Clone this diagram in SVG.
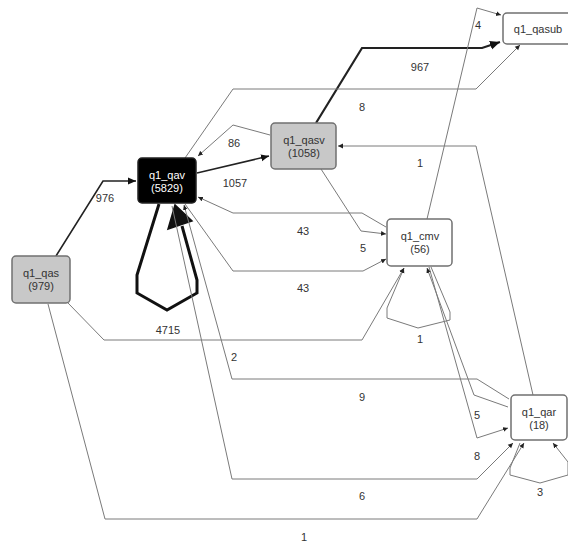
<svg xmlns="http://www.w3.org/2000/svg" width="568" height="545" viewBox="0 0 568 545">
<style>
.e{fill:none;stroke:#7a7a7a;stroke-width:1}
.em{fill:none;stroke:#222;stroke-width:1.6}
.eb{fill:none;stroke:#222;stroke-width:2.2}
.l{font-family:"Liberation Sans",Arial,sans-serif;font-size:11px;fill:#333;text-anchor:middle}
.n{font-family:"Liberation Sans",Arial,sans-serif;font-size:11px;text-anchor:middle}
.g{fill:#c8c8c8;stroke:#707070;stroke-width:1.5}
.w{fill:#fff;stroke:#707070;stroke-width:1.5}
</style>
<defs>
<marker id="a" markerUnits="userSpaceOnUse" markerWidth="6" markerHeight="6" refX="5" refY="3" orient="auto"><path d="M0,0.6 L5,3 L0,5.4 Z" fill="#222"/></marker>
<marker id="am" markerUnits="userSpaceOnUse" markerWidth="9" markerHeight="8" refX="8" refY="4" orient="auto"><path d="M0,0.5 L8,4 L0,7.5 Z" fill="#111"/></marker>
<marker id="ab" markerUnits="userSpaceOnUse" markerWidth="11" markerHeight="10" refX="10" refY="5" orient="auto"><path d="M0,0.5 L10,5 L0,9.5 Z" fill="#111"/></marker>
</defs>
<rect width="568" height="545" fill="#fff"/>
<g id="connectors">
<path class="em" d="M56,256 L103,181 L136,181" marker-end="url(#am)"/>
<path class="em" d="M197,173 L269,156" marker-end="url(#am)"/>
<path class="e" d="M270,135 L233,125 L198,156" marker-end="url(#a)"/>
<path class="eb" d="M316,123 L362,48 L482,48 L500,42" marker-end="url(#ab)"/>
<path class="e" d="M185,158 L233,89 L476,89 L520,45" marker-end="url(#a)"/>
<path class="e" d="M427,219 L477,8 L501,15" marker-end="url(#a)"/>
<path class="e" d="M533,395 L476,146 L338,146" marker-end="url(#a)"/>
<path class="e" d="M321,169 L361,231 L386,234" marker-end="url(#a)"/>
<path class="e" d="M386,227 L362,213 L233,213 L198,197" marker-end="url(#a)"/>
<path class="e" d="M185,204 L233,271 L363,271 L386,259" marker-end="url(#a)"/>
<path fill="none" stroke="#111" stroke-width="3" d="M159,204 L137,275 L137,293 L167,310 L197,293 L197,280 L182,226"/>
<polygon points="175,205 168,229 192,221" fill="#111" stroke="#111" stroke-width="1.5"/>
<path class="e" d="M68,303 L104,340 L362,340 L404,268" marker-end="url(#a)"/>
<path class="e" d="M431,267 L450,312 L450,320 L418,328 L387,318 L387,308 L404,268" marker-end="url(#a)"/>
<path class="e" d="M509,399 L477,379 L232,379 L184,205" marker-end="url(#a)"/>
<path class="e" d="M172,206 L232,479 L477,479 L513,443" marker-end="url(#a)"/>
<path class="e" d="M48,304 L105,519 L477,519 L524,443" marker-end="url(#a)"/>
<path class="e" d="M508,407 L474,395 L427,268" marker-end="url(#a)"/>
<path class="e" d="M429,267 L477,438 L508,428" marker-end="url(#a)"/>
<path class="e" d="M520,443 L510,468 L510,475 L540,483 L568,475 L568,462 L553,443" marker-end="url(#a)"/>
</g>
<g id="labels">
<text class="l" x="105" y="202">976</text>
<text class="l" x="234" y="147">86</text>
<text class="l" x="235" y="187">1057</text>
<text class="l" x="420" y="71">967</text>
<text class="l" x="362" y="111">8</text>
<text class="l" x="478" y="29">4</text>
<text class="l" x="420" y="167">1</text>
<text class="l" x="303" y="235">43</text>
<text class="l" x="363" y="252">5</text>
<text class="l" x="303" y="292">43</text>
<text class="l" x="168" y="334">4715</text>
<text class="l" x="420" y="343">1</text>
<text class="l" x="234" y="361">2</text>
<text class="l" x="362" y="401">9</text>
<text class="l" x="477" y="419">5</text>
<text class="l" x="477" y="460">8</text>
<text class="l" x="362" y="500">6</text>
<text class="l" x="540" y="496">3</text>
<text class="l" x="304" y="541">1</text>
</g>
<g id="q1_qas">
<rect class="g" x="12" y="256" width="58" height="47" rx="4"/>
<text class="n" x="41" y="277" fill="#333">q1_qas</text>
<text class="n" x="41" y="290" fill="#333">(979)</text>
</g>
<g id="q1_qav">
<rect x="138" y="158" width="58" height="45" rx="4" fill="#000" stroke="#222" stroke-width="1.5"/>
<text class="n" x="167" y="179" fill="#fff">q1_qav</text>
<text class="n" x="167" y="192" fill="#fff">(5829)</text>
</g>
<g id="q1_qasv">
<rect class="g" x="271" y="123" width="65" height="46" rx="4"/>
<text class="n" x="304" y="144" fill="#333">q1_qasv</text>
<text class="n" x="304" y="157" fill="#333">(1058)</text>
</g>
<g id="q1_cmv">
<rect class="w" x="387" y="219" width="65" height="47" rx="4"/>
<text class="n" x="420" y="240" fill="#333">q1_cmv</text>
<text class="n" x="420" y="253" fill="#333">(56)</text>
</g>
<g id="q1_qasub">
<rect class="w" x="503" y="13" width="72" height="31" rx="4"/>
<text class="n" x="538" y="33" fill="#333">q1_qasub</text>
</g>
<g id="q1_qar">
<rect class="w" x="511" y="395" width="56" height="45" rx="4"/>
<text class="n" x="539" y="416" fill="#333">q1_qar</text>
<text class="n" x="539" y="429" fill="#333">(18)</text>
</g>
</svg>
